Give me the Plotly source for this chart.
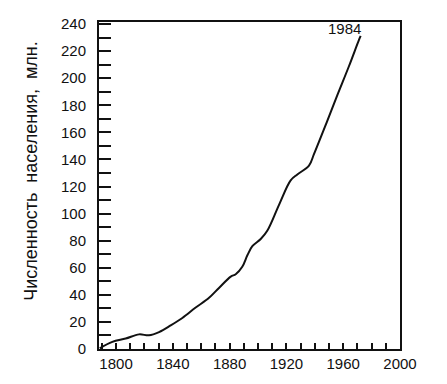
import plotly.graph_objects as go

years = [1788.5, 1797.4, 1806.8, 1816.2, 1823.2, 1830.3, 1838.5, 1846.7, 1856.1, 1865.5,
         1872.5, 1880.8, 1884.3, 1888.9, 1892.5, 1896.0, 1901.9, 1906.5, 1914.8, 1923.0,
         1927.7, 1935.9, 1939.4, 1947.7, 1955.8, 1964.1, 1971.1, 1972.3]
population = [0.5, 5.3, 7.7, 10.8, 10.1, 12.5, 17.4, 22.9, 30.6, 37.8,
              45.1, 53.5, 55.2, 60.7, 69.2, 75.9, 81.2, 87.3, 106.5, 124.6,
              128.9, 135.4, 143.9, 165.6, 187.3, 209.0, 228.3, 231.2]
x_ticks = [1800, 1840, 1880, 1920, 1960, 2000]
y_ticks = [0, 20, 40, 60, 80, 100, 120, 140, 160, 180, 200, 220, 240]
end_label = "1984"
y_title = "Численность  населения,  млн."

font_family = "Liberation Sans, Arial, sans-serif"

fig = go.Figure()
fig.add_trace(go.Scatter(x=years, y=population, mode="lines",
                         line=dict(color="#111111", width=2), line_shape="spline",
                         hoverinfo="skip", showlegend=False))

fig.add_annotation(x=years[-1], y=population[-1], text=end_label, showarrow=False,
                   xanchor="right", yanchor="bottom", xshift=2, yshift=-3,
                   font=dict(size=15, color="#111111", family=font_family))

fig.add_annotation(xref="paper", yref="paper", x=-0.226, y=0.545, text=y_title,
                   textangle=-90, showarrow=False, xanchor="center", yanchor="middle",
                   font=dict(size=18, color="#111111", family=font_family))

fig.update_xaxes(range=[1788, 2000], tickvals=x_ticks, ticktext=[str(v) for v in x_ticks],
                 ticks="inside", ticklen=6, tickwidth=2, tickcolor="#111111",
                 minor=dict(dtick=10, tick0=1800, ticks="inside", ticklen=6, tickwidth=2, tickcolor="#111111"),
                 showline=True, linewidth=2, linecolor="#111111", mirror=True,
                 showgrid=False, zeroline=False,
                 tickfont=dict(size=15, color="#111111", family=font_family))
fig.update_yaxes(range=[0, 241.5], tickvals=y_ticks, ticktext=[str(v) for v in y_ticks],
                 ticks="inside", ticklen=12, tickwidth=2, tickcolor="#111111",
                 minor=dict(dtick=10, tick0=0, ticks="inside", ticklen=12, tickwidth=2, tickcolor="#111111"),
                 showline=True, linewidth=2, linecolor="#111111", mirror=True,
                 showgrid=False, zeroline=False, ticklabelstandoff=8,
                 tickfont=dict(size=15, color="#111111", family=font_family))

fig.update_layout(width=447, height=384, margin=dict(l=91, r=55, t=7, b=43),
                  paper_bgcolor="white", plot_bgcolor="white",
                  font=dict(family=font_family, color="#111111"))

fig.write_html("out.html")
